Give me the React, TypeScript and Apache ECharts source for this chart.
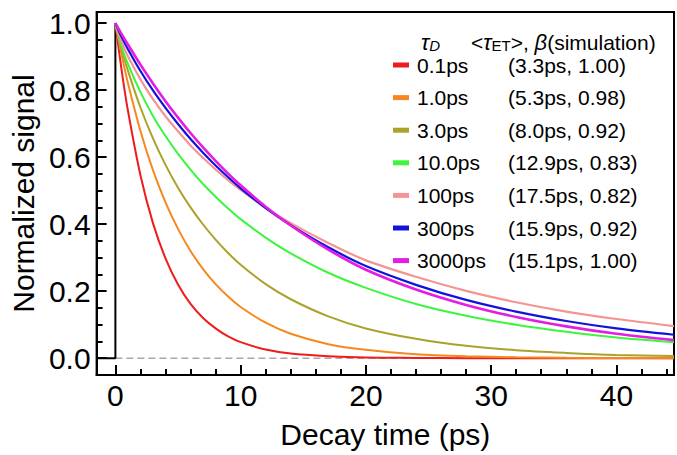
import React, { useEffect, useRef } from "react";
import * as echarts from "echarts";

const times = [0, 0.5, 1, 2, 3, 4, 5, 6, 7, 8, 9, 10, 12, 14, 17, 20, 24, 28, 32, 36, 40, 44.6];
const red = [1, 0.859, 0.739, 0.546, 0.403, 0.298, 0.22, 0.162, 0.12, 0.089, 0.065, 0.048, 0.026, 0.014, 0.006, 0.002, 0.001, 0, 0, 0, 0, 0];
const orange = [1, 0.905, 0.821, 0.678, 0.561, 0.465, 0.386, 0.32, 0.266, 0.221, 0.184, 0.153, 0.106, 0.073, 0.042, 0.025, 0.012, 0.006, 0.003, 0.0014, 0.0007, 0.0003];
const olive = [1, 0.922, 0.858, 0.748, 0.656, 0.577, 0.509, 0.45, 0.399, 0.354, 0.314, 0.279, 0.221, 0.176, 0.125, 0.089, 0.058, 0.037, 0.024, 0.016, 0.01, 0.0065];
const green = [1, 0.929, 0.878, 0.794, 0.723, 0.663, 0.61, 0.563, 0.52, 0.482, 0.447, 0.415, 0.36, 0.313, 0.255, 0.21, 0.162, 0.127, 0.1, 0.079, 0.062, 0.048];
const pink = [1, 0.943, 0.901, 0.832, 0.773, 0.722, 0.677, 0.635, 0.598, 0.563, 0.531, 0.502, 0.449, 0.403, 0.344, 0.292, 0.243, 0.201, 0.167, 0.139, 0.117, 0.096];
const blue = [1, 0.958, 0.922, 0.857, 0.799, 0.747, 0.699, 0.654, 0.613, 0.575, 0.54, 0.507, 0.448, 0.397, 0.331, 0.275, 0.219, 0.174, 0.139, 0.111, 0.089, 0.07];
const magenta = [1, 0.967, 0.936, 0.876, 0.82, 0.767, 0.718, 0.672, 0.629, 0.589, 0.551, 0.516, 0.452, 0.396, 0.324, 0.264, 0.205, 0.159, 0.123, 0.095, 0.073, 0.054];

const tauD = ["0.1ps", "1.0ps", "3.0ps", "10.0ps", "100ps", "300ps", "3000ps"];
const simParams = ["(3.3ps, 1.00)", "(5.3ps, 0.98)", "(8.0ps, 0.92)", "(12.9ps, 0.83)", "(17.5ps, 0.82)", "(15.9ps, 0.92)", "(15.1ps, 1.00)"];
const seriesValues = [red, orange, olive, green, pink, blue, magenta];
const colors = ["#ee1c1c", "#f7881f", "#aaa22a", "#3cf53c", "#f49494", "#1212dd", "#e41ce4"];
const widths = [2, 2, 2, 2, 2.2, 2.2, 2.6];

const yMajor = [0, 0.2, 0.4, 0.6, 0.8, 1.0];
const yMinor = [0.05, 0.1, 0.15, 0.25, 0.3, 0.35, 0.45, 0.5, 0.55, 0.65, 0.7, 0.75, 0.85, 0.9, 0.95];
const xMajor = [0, 10, 20, 30, 40];
const xMinor = [2, 4, 6, 8, 12, 14, 16, 18, 22, 24, 26, 28, 32, 34, 36, 38, 42, 44];

const X_MIN = -1.5, X_MAX = 44.6, Y_MIN = -0.05, Y_MAX = 1.033;
const FONT = "'Liberation Sans', Arial, sans-serif";

export default function App() {
  const ref = useRef<HTMLDivElement>(null);
  useEffect(() => {
    if (!ref.current) return;
    const chart = echarts.init(ref.current, null, { renderer: "svg" });
    const curveSeries = tauD.map((name, i) => ({
      name,
      type: "line",
      data: times.map((t, j) => [t, seriesValues[i][j]]),
      smooth: 0.3,
      showSymbol: false,
      lineStyle: { color: colors[i], width: widths[i] },
      itemStyle: { color: colors[i] },
      z: 3 + i,
    }));
    const option: any = {
      animation: false,
      grid: { left: 96, right: 3, top: 12, bottom: 80, show: true, borderColor: "#000", borderWidth: 2 },
      xAxis: [
        {
          type: "value", min: X_MIN, max: X_MAX, position: "bottom",
          axisLine: { show: true, onZero: false, lineStyle: { color: "#000", width: 2 } },
          axisTick: { show: true, inside: true, length: 10, customValues: xMajor, lineStyle: { color: "#000", width: 2 } },
          axisLabel: { customValues: xMajor, fontSize: 30, color: "#000", margin: 5, fontFamily: FONT },
          splitLine: { show: false },
          name: "Decay time (ps)", nameLocation: "middle", nameGap: 44,
          nameTextStyle: { fontSize: 30, color: "#000", fontFamily: FONT },
        },
        {
          type: "value", min: X_MIN, max: X_MAX, position: "bottom",
          axisLine: { show: false, onZero: false },
          axisTick: { show: true, inside: true, length: 6, customValues: xMinor, lineStyle: { color: "#000", width: 2 } },
          axisLabel: { show: false },
          splitLine: { show: false },
        },
      ],
      yAxis: [
        {
          type: "value", min: Y_MIN, max: Y_MAX, position: "left",
          axisLine: { show: true, onZero: false, lineStyle: { color: "#000", width: 2 } },
          axisTick: { show: true, inside: true, length: 10, customValues: yMajor, lineStyle: { color: "#000", width: 2 } },
          axisLabel: { customValues: yMajor, fontSize: 30, color: "#000", margin: 6, fontFamily: FONT, formatter: (v: number) => v.toFixed(1) },
          splitLine: { show: false },
          name: "Normalized signal", nameLocation: "middle", nameGap: 54,
          nameTextStyle: { fontSize: 30, color: "#000", fontFamily: FONT },
        },
        {
          type: "value", min: Y_MIN, max: Y_MAX, position: "left",
          axisLine: { show: false, onZero: false },
          axisTick: { show: true, inside: true, length: 6, customValues: yMinor, lineStyle: { color: "#000", width: 2 } },
          axisLabel: { show: false },
          splitLine: { show: false },
        },
      ],
      legend: {
        data: tauD,
        orient: "vertical",
        left: 388,
        top: 49.5,
        itemWidth: 16,
        itemHeight: 5,
        itemGap: 11.6,
        icon: "rect",
        formatter: (name: string) => `{a|${name}}{b|${simParams[tauD.indexOf(name)]}}`,
        textStyle: {
          fontSize: 21, color: "#000", fontFamily: FONT,
          rich: {
            a: { fontSize: 21, width: 91, padding: [0, 0, 0, 3], lineHeight: 24, fontFamily: FONT, color: "#000" },
            b: { fontSize: 21, lineHeight: 24, fontFamily: FONT, color: "#000" },
          },
        },
      },
      graphic: [
        {
          type: "text", left: 421, top: 31, z: 10,
          style: {
            text: "{t|τ}{s|D}",
            rich: {
              t: { fontSize: 22, fontStyle: "italic", fontFamily: FONT, fill: "#000", verticalAlign: "bottom", lineHeight: 26 },
              s: { fontSize: 15, fontStyle: "italic", fontFamily: FONT, fill: "#000", verticalAlign: "bottom", lineHeight: 18 },
            },
          },
        },
        {
          type: "text", left: 471, top: 31, z: 10,
          style: {
            text: "{n|<}{t|τ}{s|ET}{n|>, }{t|β}{n|(simulation)}",
            rich: {
              n: { fontSize: 21, fontFamily: FONT, fill: "#000", verticalAlign: "bottom", lineHeight: 26 },
              t: { fontSize: 22, fontStyle: "italic", fontFamily: FONT, fill: "#000", verticalAlign: "bottom", lineHeight: 26 },
              s: { fontSize: 15, fontFamily: FONT, fill: "#000", verticalAlign: "bottom", lineHeight: 18 },
            },
          },
        },
      ],
      series: [
        {
          name: "zero", type: "line", data: [[0, 0], [X_MAX, 0]], showSymbol: false, silent: true,
          lineStyle: { color: "#a8a8a8", width: 1.5, type: [7, 4] }, z: 1,
        },
        {
          name: "step", type: "line", data: [[X_MIN, 0], [0, 0], [0, 1]], showSymbol: false, silent: true,
          lineStyle: { color: "#000", width: 2 }, z: 2,
        },
        ...curveSeries,
      ],
    };
    chart.setOption(option);
    return () => chart.dispose();
  }, []);
  return <div ref={ref} style={{ position: "fixed", left: 0, top: 0, width: 677, height: 455, background: "#fff" }} />;
}
